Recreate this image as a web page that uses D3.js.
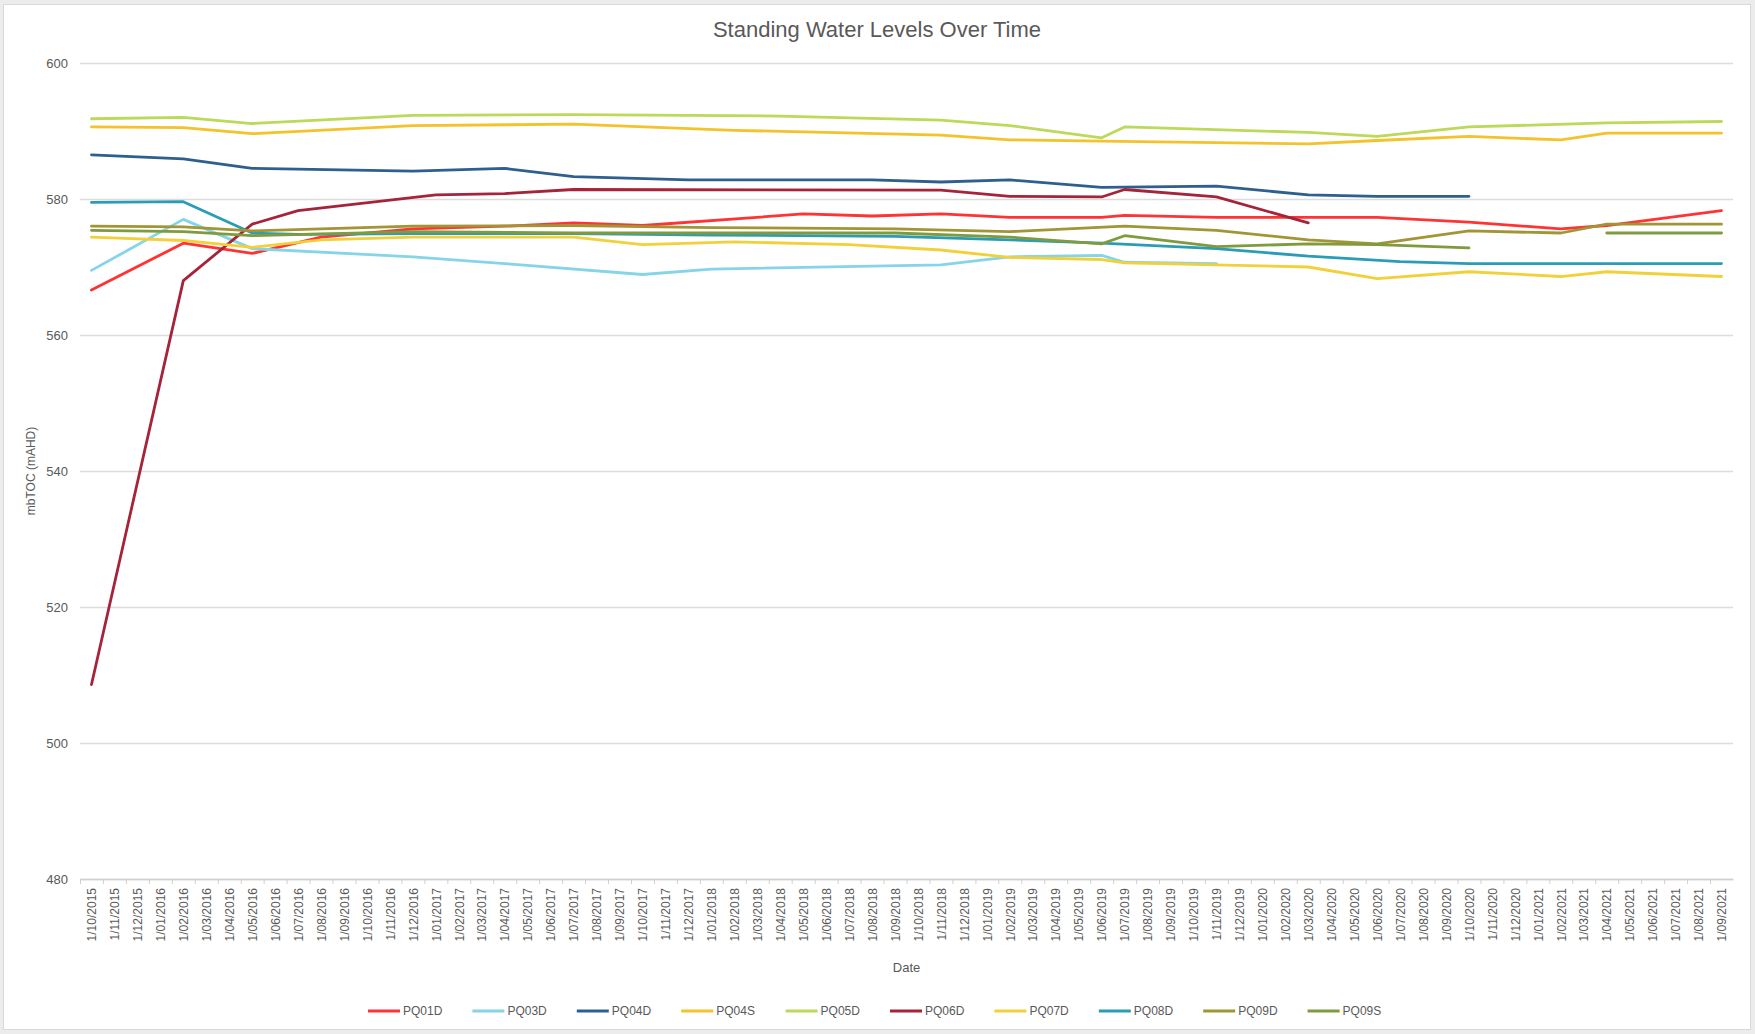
<!DOCTYPE html>
<html>
<head>
<meta charset="utf-8">
<script src="https://cdn.jsdelivr.net/npm/d3@7"></script>
<style>
	body { margin: 0; background: #ececec; font-family: "Liberation Sans", Arial, sans-serif; }
	.chart text { fill: #595959; }
</style>
</head>
<body>
<div class="chart"></div>
<script>
var dates = [
	"1/10/2015","1/11/2015","1/12/2015",
	"1/01/2016","1/02/2016","1/03/2016","1/04/2016","1/05/2016","1/06/2016","1/07/2016","1/08/2016","1/09/2016","1/10/2016","1/11/2016","1/12/2016",
	"1/01/2017","1/02/2017","1/03/2017","1/04/2017","1/05/2017","1/06/2017","1/07/2017","1/08/2017","1/09/2017","1/10/2017","1/11/2017","1/12/2017",
	"1/01/2018","1/02/2018","1/03/2018","1/04/2018","1/05/2018","1/06/2018","1/07/2018","1/08/2018","1/09/2018","1/10/2018","1/11/2018","1/12/2018",
	"1/01/2019","1/02/2019","1/03/2019","1/04/2019","1/05/2019","1/06/2019","1/07/2019","1/08/2019","1/09/2019","1/10/2019","1/11/2019","1/12/2019",
	"1/01/2020","1/02/2020","1/03/2020","1/04/2020","1/05/2020","1/06/2020","1/07/2020","1/08/2020","1/09/2020","1/10/2020","1/11/2020","1/12/2020",
	"1/01/2021","1/02/2021","1/03/2021","1/04/2021","1/05/2021","1/06/2021","1/07/2021","1/08/2021","1/09/2021"
];

var yTicks = [480, 500, 520, 540, 560, 580, 600];

var seriesNames = ["PQ01D","PQ03D","PQ04D","PQ04S","PQ05D","PQ06D","PQ07D","PQ08D","PQ09D","PQ09S"];
var seriesColors = ["#ff3333","#86d4e8","#2f5f8f","#f4c22b","#bcd95a","#a5243a","#f2d03a","#2b9cb6","#a29535","#7e9b3e"];

// readings: [date, mAHD]; null = break in the line
var pq01d = [["1/10/2015",566.6],["1/02/2016",573.5],["1/05/2016",572.0],["1/08/2016",574.4],["1/12/2016",575.6],["1/04/2017",576.0],["1/07/2017",576.5],["1/10/2017",576.1],["1/05/2018",577.8],["1/08/2018",577.5],["1/11/2018",577.8],["1/02/2019",577.3],["1/06/2019",577.3],["1/07/2019",577.6],["1/11/2019",577.3],["1/03/2020",577.3],["1/06/2020",577.3],["1/10/2020",576.6],["1/02/2021",575.6],["1/04/2021",576.1],["1/09/2021",578.3]];
var pq03d = [["1/10/2015",569.5],["1/02/2016",577.0],["1/05/2016",572.7],["1/12/2016",571.5],["1/04/2017",570.5],["1/10/2017",568.9],["1/01/2018",569.7],["1/11/2018",570.3],["1/02/2019",571.5],["1/06/2019",571.7],["1/07/2019",570.7],["1/11/2019",570.5]];
var pq04d = [["1/10/2015",586.5],["1/02/2016",585.9],["1/05/2016",584.5],["1/12/2016",584.1],["1/04/2017",584.5],["1/07/2017",583.3],["1/12/2017",582.8],["1/08/2018",582.8],["1/11/2018",582.5],["1/02/2019",582.8],["1/06/2019",581.7],["1/11/2019",581.9],["1/03/2020",580.6],["1/06/2020",580.4],["1/10/2020",580.4]];
var pq04s = [["1/10/2015",590.6],["1/02/2016",590.5],["1/05/2016",589.6],["1/12/2016",590.8],["1/07/2017",591.0],["1/02/2018",590.1],["1/11/2018",589.4],["1/02/2019",588.7],["1/06/2019",588.5],["1/03/2020",588.1],["1/06/2020",588.6],["1/10/2020",589.2],["1/02/2021",588.7],["1/04/2021",589.7],["1/09/2021",589.7]];
var pq05d = [["1/10/2015",591.8],["1/02/2016",592.0],["1/05/2016",591.1],["1/12/2016",592.3],["1/07/2017",592.4],["1/04/2018",592.2],["1/11/2018",591.6],["1/02/2019",590.8],["1/06/2019",589.0],["1/07/2019",590.6],["1/03/2020",589.8],["1/06/2020",589.2],["1/10/2020",590.6],["1/04/2021",591.2],["1/09/2021",591.4]];
var pq06d = [["1/10/2015",508.6],["1/02/2016",568.0],["1/05/2016",576.3],["1/07/2016",578.3],["1/01/2017",580.6],["1/04/2017",580.8],["1/07/2017",581.4],["1/11/2018",581.3],["1/02/2019",580.4],["1/06/2019",580.3],["1/07/2019",581.4],["1/11/2019",580.3],["1/03/2020",576.5]];
var pq07d = [["1/10/2015",574.4],["1/02/2016",573.9],["1/05/2016",572.9],["1/08/2016",574.0],["1/12/2016",574.4],["1/07/2017",574.4],["1/10/2017",573.3],["1/02/2018",573.7],["1/07/2018",573.3],["1/11/2018",572.5],["1/02/2019",571.4],["1/06/2019",571.1],["1/07/2019",570.6],["1/03/2020",570.0],["1/06/2020",568.3],["1/10/2020",569.3],["1/02/2021",568.6],["1/04/2021",569.3],["1/09/2021",568.6]];
var pq08d = [["1/10/2015",579.5],["1/02/2016",579.6],["1/05/2016",575.0],["1/07/2016",574.8],["1/12/2016",574.9],["1/07/2017",574.9],["1/01/2018",574.7],["1/09/2018",574.5],["1/02/2019",574.0],["1/06/2019",573.5],["1/11/2019",572.7],["1/03/2020",571.6],["1/07/2020",570.8],["1/10/2020",570.5],["1/04/2021",570.5],["1/09/2021",570.5]];
var pq09d = [["1/10/2015",576.0],["1/02/2016",575.9],["1/05/2016",575.3],["1/12/2016",576.0],["1/07/2017",576.1],["1/01/2018",575.8],["1/09/2018",575.6],["1/02/2019",575.2],["1/07/2019",576.0],["1/11/2019",575.4],["1/03/2020",574.0],["1/06/2020",573.4],["1/10/2020",575.3],["1/02/2021",575.0],["1/04/2021",576.3],["1/09/2021",576.3]];
var pq09s = [["1/10/2015",575.4],["1/02/2016",575.2],["1/05/2016",574.6],["1/12/2016",575.2],["1/07/2017",575.0],["1/01/2018",575.0],["1/09/2018",575.0],["1/02/2019",574.4],["1/06/2019",573.4],["1/07/2019",574.6],["1/11/2019",573.0],["1/03/2020",573.4],["1/06/2020",573.3],["1/10/2020",572.8],["1/01/2021",null],["1/04/2021",575.0],["1/09/2021",575.0]];

var seriesData = [pq01d, pq03d, pq04d, pq04s, pq05d, pq06d, pq07d, pq08d, pq09d, pq09s];

function drawChart() {
	var width = 1755, height = 1034;
	var sel = d3.select(".chart").html("");

	var svg = sel.append("svg")
		.attr("width", width)
		.attr("height", height)
		.style("display", "block");

	// white chart area on the grey page
	svg.append("rect")
		.attr("x", 3.5).attr("y", 4.5)
		.attr("width", 1747).attr("height", 1025)
		.attr("fill", "#fff")
		.attr("stroke", "#d9d9d9");

	var plot = {left: 80, right: 1733, top: 63, bottom: 879};

	var x = d3.scalePoint().domain(dates).range([plot.left, plot.right]).padding(0.5);
	var y = d3.scaleLinear().domain([480, 600]).range([plot.bottom, plot.top]);

	// gridlines + y labels
	var yAxis = d3.axisLeft(y).tickValues(yTicks).tickSize(-(plot.right - plot.left)).tickPadding(12);
	var gy = svg.append("g")
		.attr("transform", "translate(" + plot.left + ",0)")
		.call(yAxis);
	gy.select(".domain").remove();
	gy.selectAll(".tick line").attr("stroke", "#dcdcdc").attr("stroke-width", 1.5);
	gy.selectAll(".tick text").style("font-size", "13px").style("font-family", "Liberation Sans, Arial, sans-serif");

	// x axis
	var step = x.step();
	var xAxis = d3.axisBottom(x).tickSize(0).tickPadding(0);
	var gx = svg.append("g")
		.attr("transform", "translate(0," + plot.bottom + ")")
		.call(xAxis);
	gx.select(".domain").attr("stroke", "#d0d0d0").attr("stroke-width", 1.5);
	gx.selectAll(".tick text")
		.style("font-size", "12px")
		.style("font-family", "Liberation Sans, Arial, sans-serif")
		.attr("text-anchor", "end")
		.attr("dy", "0.35em")
		.attr("transform", "translate(0,9) rotate(-90)")
		.attr("x", 0).attr("y", 0);
	gx.selectAll(".tick").append("line")
		.attr("x1", -step / 2).attr("x2", -step / 2)
		.attr("y1", 0).attr("y2", 5)
		.attr("stroke", "#d0d0d0");

	// series lines
	var line = d3.line()
		.defined(d => d[1] != null)
		.x(d => x(d[0]))
		.y(d => y(d[1]));

	svg.append("g").selectAll("path")
		.data(seriesData)
		.join("path")
		.attr("d", line)
		.attr("fill", "none")
		.attr("stroke", (d, i) => seriesColors[i])
		.attr("stroke-width", 2.8)
		.attr("stroke-linejoin", "round")
		.attr("stroke-linecap", "round");

	// titles
	svg.append("text")
		.attr("x", 877).attr("y", 37)
		.attr("text-anchor", "middle")
		.style("font-size", "22px")
		.text("Standing Water Levels Over Time");

	svg.append("text")
		.attr("transform", "translate(35," + ((plot.top + plot.bottom) / 2) + ") rotate(-90)")
		.attr("text-anchor", "middle")
		.style("font-size", "12px")
		.text("mbTOC (mAHD)");

	svg.append("text")
		.attr("x", (plot.left + plot.right) / 2).attr("y", 972)
		.attr("text-anchor", "middle")
		.style("font-size", "13px")
		.text("Date");

	// legend
	var legend = svg.append("g").attr("transform", "translate(368,1011)");
	var item = legend.selectAll("g")
		.data(seriesNames)
		.join("g")
		.attr("transform", (d, i) => "translate(" + (i * 104.4) + ",0)");
	item.append("line")
		.attr("x1", 0).attr("x2", 32)
		.attr("stroke", (d, i) => seriesColors[i])
		.attr("stroke-width", 3);
	item.append("text")
		.attr("x", 35).attr("dy", "0.35em")
		.style("font-size", "12px")
		.text(d => d);
}

drawChart();
</script>
</body>
</html>
